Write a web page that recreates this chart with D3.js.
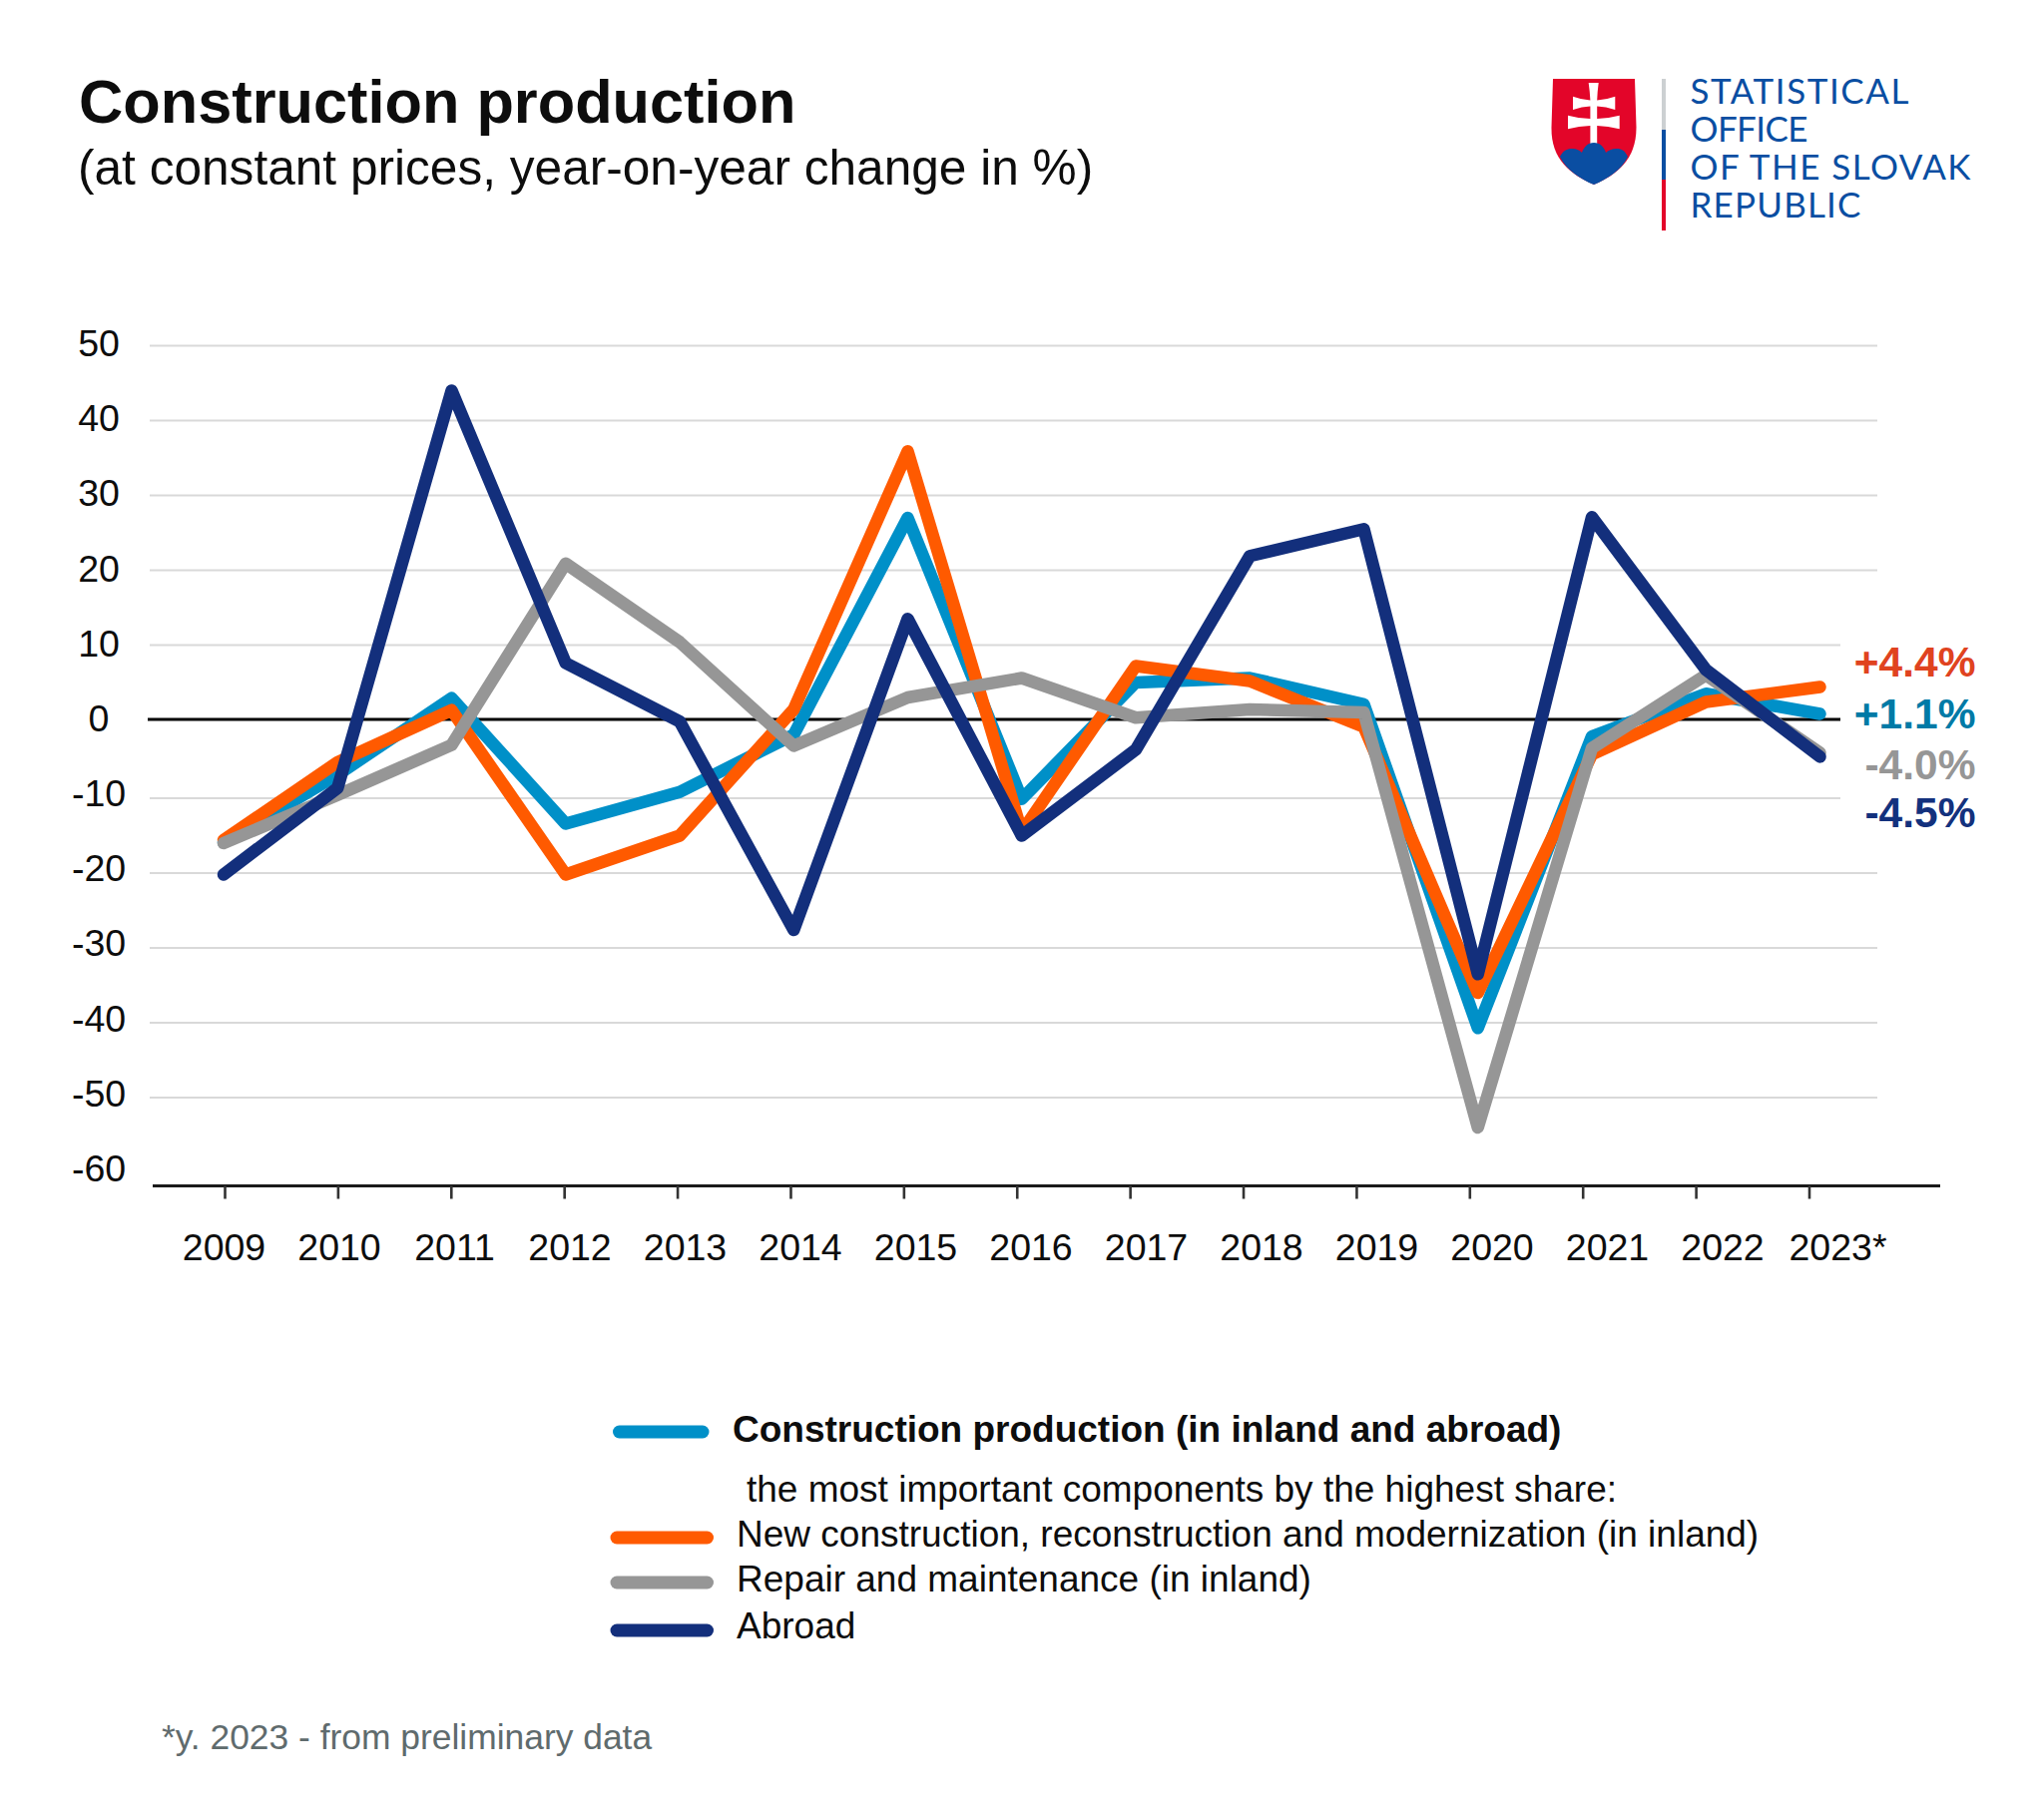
<!DOCTYPE html>
<html><head><meta charset="utf-8">
<script src="https://cdn.jsdelivr.net/npm/d3@7/dist/d3.min.js"></script>
<style>html,body{margin:0;padding:0;background:#fff}svg{display:block}text{font-family:"Liberation Sans",Arial,sans-serif}</style>
</head><body><svg id="c" width="2048" height="1820"></svg>
<script>
const years=["2009","2010","2011","2012","2013","2014","2015","2016","2017","2018","2019","2020","2021","2022","2023*"];
const total=[-15.9,-7,2.9,-13.4,-9.2,-1.9,27,-10.1,5,5.6,2.1,-40.7,-2.1,3.5,0.8];
const newBuild=[-15.6,-5.4,1.3,-20.2,-15,1.4,35.9,-14.5,7.2,5.2,-0.9,-36,-4.4,2.4,4.4];
const repair=[-16,-9.6,-3.2,20.9,10.4,-3.3,3,5.6,0.3,1.4,1,-54,-3.6,6,-4.2];
const abroad=[-20.2,-8.7,44,7.6,-0.2,-27.6,13.5,-15,-3.8,21.9,25.5,-33.5,27.1,6.7,-4.7];
const gridValues=[50,40,30,20,10,-10,-20,-30,-40,-50];
const yTickValues=[50,40,30,20,10,0,-10,-20,-30,-40,-50,-60];
const endLabels=["+4.4%","+1.1%","-4.0%","-4.5%"];
const seriesNames=["Construction production (in inland and abroad)","New construction, reconstruction and modernization (in inland)","Repair and maintenance (in inland)","Abroad"];
const legendNote="the most important components by the highest share:";
const colors={total:"#0090c8",newBuild:"#ff5a00",repair:"#969696",abroad:"#132f7c"};

const svg=d3.select("#c");
const x=d3.scalePoint().domain(years).range([224,1823.5]);
const xTicks=d3.scalePoint().domain(years).range([225,1812.5]);
const xLabels=d3.scalePoint().domain(years).range([224,1841]);
// the reference's grid has a slightly wider step between 0 and -10
const y=d3.scaleLinear().domain([50,0,-10,-50]).range([346.5,721.5,800,1100]);
const yLabels=d3.scaleLinear().domain([50,-60]).range([343,1170]);

// title
svg.append("text").attr("x",79).attr("y",123).attr("font-size",61.3).attr("font-weight",700).attr("fill","#0d0d0d").text("Construction production");
svg.append("text").attr("x",78).attr("y",185).attr("font-size",49.6).attr("fill","#0d0d0d").text("(at constant prices, year-on-year change in %)");

// logo
const logo=svg.append("g");
logo.append("path").attr("fill","#e30529").attr("d","M1556 79H1638L1639.5 128C1639.5 160 1620 175 1597 185C1574 175 1554 160 1554.5 128Z");
logo.append("path").attr("fill","#fff").attr("d","M1591.7 83H1601.7Q1600.5 92 1600.2 100.5Q1609 100 1618.3 96.7V110Q1609 106.8 1600.2 106.5V119Q1611 118.8 1622.7 115.7V129.3Q1611 126.2 1600.2 126V146H1593.4V126Q1582 126.2 1571 129.3V115.7Q1582 118.8 1593.4 119V106.5Q1585 106.8 1576 110V96.7Q1585 100 1593.4 100.5Q1593 92 1591.7 83Z");
logo.append("path").attr("fill","#0a4ea2").attr("d","M1563 157C1566 151 1570 149 1575 149C1580 149 1583 151 1585 153C1587 147 1591 143 1597 143C1603 143 1607 147 1609 153C1611 151 1615 149 1620 149C1625 149 1628 151 1631 157C1625 170 1610 180 1597 185C1584 180 1569 170 1563 157Z");
logo.append("rect").attr("x",1665).attr("y",79).attr("width",4).attr("height",51).attr("fill","#ccd0d2");
logo.append("rect").attr("x",1665).attr("y",130).attr("width",4).attr("height",50).attr("fill","#0a4ea2");
logo.append("rect").attr("x",1665).attr("y",180).attr("width",4).attr("height",51).attr("fill","#e30529");
[["STATISTICAL",104,219],["OFFICE",142,118],["OF THE SLOVAK",180,281],["REPUBLIC",218,171]].forEach(d=>{
  logo.append("text").attr("x",1693.5).attr("y",d[1]).attr("font-size",35).attr("fill","#0a4ea2").style("font-family","Lato, sans-serif")
    .attr("textLength",d[2]).attr("lengthAdjust","spacing").text(d[0]);
});

// grid
svg.append("g").selectAll("line").data(gridValues).join("line")
  .attr("x1",150).attr("x2",1881).attr("y1",d=>y(d)).attr("y2",d=>y(d))
  .attr("stroke","#d9d9d9").attr("stroke-width",2);
svg.append("rect").attr("x",1844).attr("y",600).attr("width",160).attr("height",250).attr("fill","#fff");
svg.append("line").attr("x1",148).attr("x2",1844).attr("y1",y(0)-0.5).attr("y2",y(0)-0.5).attr("stroke","#000").attr("stroke-width",3);

// axes
const gx=svg.append("g").attr("transform","translate(0,1188.5)")
  .call(d3.axisBottom(xTicks).tickSize(13).tickFormat(""));
gx.select(".domain").attr("d","M153,0H1944").attr("stroke","#1a1a1a").attr("stroke-width",3);
gx.selectAll(".tick line").attr("stroke","#333").attr("stroke-width",2.6);
const gxl=svg.append("g").attr("transform","translate(0,1263)")
  .call(d3.axisBottom(xLabels).tickSize(0).tickPadding(0));
gxl.select(".domain").remove();
gxl.selectAll("text").attr("dy",0).attr("y",0).attr("font-size",37.5).attr("fill","#0d0d0d").style("font-family",'"Liberation Sans"');
const gyl=svg.append("g").attr("transform","translate(99,0)")
  .call(d3.axisLeft(yLabels).tickValues(yTickValues).tickSize(0).tickPadding(0).tickFormat(String));
gyl.select(".domain").remove();
gyl.selectAll("text").attr("x",0).attr("dy","0.36em").attr("text-anchor","middle").attr("font-size",37.5).attr("fill","#0d0d0d").style("font-family",'"Liberation Sans"');

// lines
const line=d3.line().x((d,i)=>x(years[i])).y(d=>y(d));
[[total,colors.total],[newBuild,colors.newBuild],[repair,colors.repair],[abroad,colors.abroad]].forEach(s=>{
  svg.append("path").attr("d",line(s[0])).attr("fill","none").attr("stroke",s[1]).attr("stroke-width",12.5)
    .attr("stroke-linecap","round").attr("stroke-linejoin","round");
});

// end labels
const endColors=["#e0431f","#007aa6","#969696","#13317d"];
const endBase=[678,730,781,829];
endLabels.forEach((t,i)=>svg.append("text").attr("x",1979.5).attr("y",endBase[i]).attr("text-anchor","end")
  .attr("font-size",42.5).attr("font-weight",700).attr("fill",endColors[i]).text(t));

// legend
const lg=svg.append("g");
[[614.5,710,1435,colors.total],[612,714.5,1541,colors.newBuild],[612,714.5,1586,colors.repair],[612,714.5,1634,colors.abroad]].forEach(d=>{
  lg.append("line").attr("x1",d[0]+6).attr("x2",d[1]-6).attr("y1",d[2]).attr("y2",d[2]).attr("stroke",d[3]).attr("stroke-width",13).attr("stroke-linecap","round");
});
lg.append("text").attr("x",734).attr("y",1445).attr("font-size",37).attr("font-weight",700).attr("fill","#0d0d0d").text(seriesNames[0]);
lg.append("text").attr("x",748).attr("y",1505).attr("font-size",37).attr("fill","#0d0d0d").text(legendNote);
lg.append("text").attr("x",738).attr("y",1549.5).attr("font-size",37).attr("fill","#0d0d0d").text(seriesNames[1]);
lg.append("text").attr("x",738).attr("y",1594.5).attr("font-size",37).attr("fill","#0d0d0d").text(seriesNames[2]);
lg.append("text").attr("x",738).attr("y",1642).attr("font-size",37).attr("fill","#0d0d0d").text(seriesNames[3]);

// footnote
svg.append("text").attr("x",162).attr("y",1753).attr("font-size",35.4).attr("fill","#5f6b6d").text("*y. 2023 - from preliminary data");
</script></body></html>
